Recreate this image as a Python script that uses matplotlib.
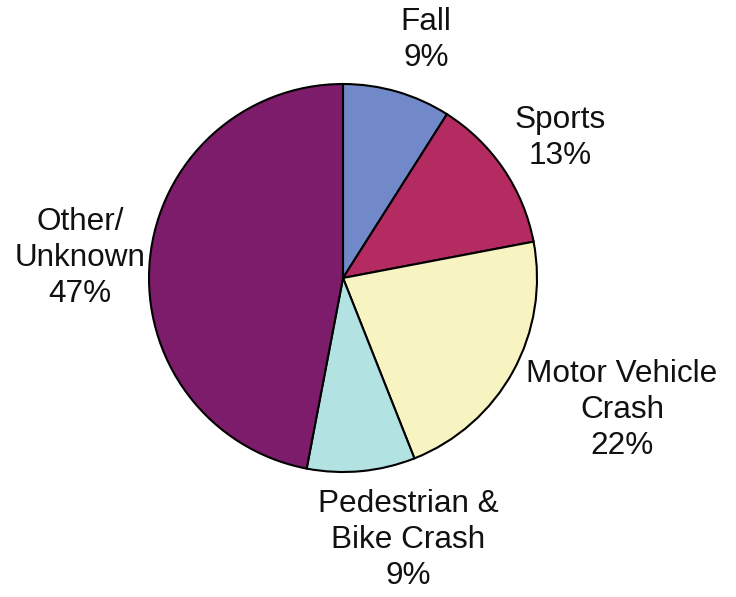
import matplotlib
matplotlib.use("Agg")
import matplotlib.pyplot as plt

categories = ["Fall", "Sports", "Motor Vehicle\nCrash", "Pedestrian &\nBike Crash", "Other/\nUnknown"]
values = [9, 13, 22, 9, 47]
colors = ["#7189C9", "#B42B62", "#F7F4C2", "#B2E2E2", "#7D1C6A"]

W, H = 736, 597
fig = plt.figure(figsize=(W / 100, H / 100), dpi=100)
ax = fig.add_axes([0, 0, 1, 1])

cx, cy, r = 343, H - 278, 194
ax.pie(values, colors=colors, startangle=90, counterclock=False,
       center=(cx, cy), radius=r, frame=True,
       wedgeprops=dict(edgecolor="black", linewidth=1.5))
ax.set_xlim(0, W)
ax.set_ylim(0, H)
ax.set_aspect("equal")
ax.axis("off")

label_pos = [(426, 40), (560, 138), (622, 410), (408, 540), (80, 258)]
for name, v, (x, y) in zip(categories, values, label_pos):
    ax.text(x, H - y, f"{name}\n{v}%", ha="center", va="center",
            fontsize=22.7, family="Liberation Sans", linespacing=1.27, color="#111111")

fig.savefig("out.png", dpi=100)
